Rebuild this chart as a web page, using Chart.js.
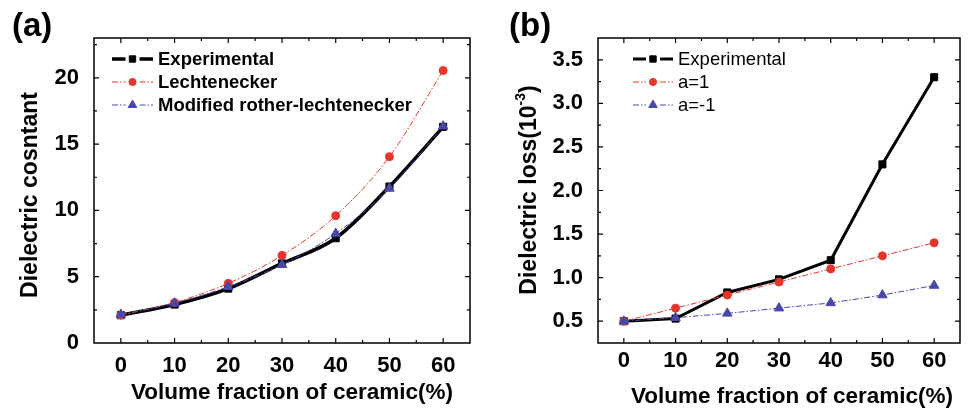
<!DOCTYPE html>
<html>
<head>
<meta charset="utf-8">
<script src="https://cdn.jsdelivr.net/npm/chart.js@4.4.1/dist/chart.umd.min.js"></script>
<style>
body{margin:0;background:#fff;width:975px;height:412px;overflow:hidden;position:relative}
.panel{position:absolute;top:0;height:412px}
</style>
</head>
<body>
<div class="panel" style="left:0;width:487px"><canvas id="graficoA" width="487" height="412"></canvas></div>
<div class="panel" style="left:487px;width:488px"><canvas id="graficoB" width="488" height="412"></canvas></div>
<script>
// datos
const fraccion=[0,10,20,30,40,50,60];
const ticksX=[0,10,20,30,40,50,60];
const ticksA=[0,5,10,15,20];
const ticksB=[0.5,1.0,1.5,2.0,2.5,3.0,3.5];

const etiquetasA=["Experimental","Lechtenecker","Modified rother-lechtenecker"];
const constante_exp=[2.1,2.9,4.1,6.0,7.9,11.8,16.3];
const constante_lech=[2.1,3.05,4.5,6.6,9.6,14.05,20.55];
const constante_mod=[2.15,3.0,4.25,5.9,8.25,11.65,16.35];

const etiquetasB=["Experimental","a=1","a=-1"];
const perdida_exp=[0.5,0.53,0.83,0.98,1.2,2.3,3.3];
const perdida_a1=[0.5,0.65,0.8,0.95,1.1,1.25,1.4];
const perdida_am1=[0.5,0.54,0.59,0.65,0.71,0.8,0.91];

const negro='#000000';
const rojo='#e5352b';
const azul='#4848aa';
const fuente='"Liberation Sans", Arial, sans-serif';

function puntos(valores){
    return fraccion.map((f,i)=>({x:f,y:valores[i]}));
}

// marco con ticks hacia adentro en los cuatro lados
const marco={
    id:'marco',
    afterDatasetsDraw(chart){
        const {ctx,chartArea:a,scales}=chart;
        ctx.save();
        ctx.strokeStyle='#000';
        ctx.lineWidth=1.5;
        ctx.strokeRect(a.left,a.top,a.right-a.left,a.bottom-a.top);
        ctx.lineWidth=1.2;
        ctx.beginPath();
        ['x','y'].forEach(k=>{
            const s=scales[k];
            const vals=s.ticks.map(t=>t.value);
            const paso=vals[1]-vals[0];
            const medio=paso/2;
            let v=vals[0];
            while(v-medio>=s.min-1e-9) v-=medio;
            for(;v<=s.max+1e-9;v+=medio){
                const mayor=Math.abs(((v-vals[0])/paso)-Math.round((v-vals[0])/paso))<1e-6;
                const l=mayor?5:3;
                const p=s.getPixelForValue(v);
                if(k==='x'){
                    if(p<=a.left+1||p>=a.right-1) continue;
                    ctx.moveTo(p,a.bottom);ctx.lineTo(p,a.bottom-l);
                    ctx.moveTo(p,a.top);ctx.lineTo(p,a.top+l);
                }else{
                    if(p<=a.top+1||p>=a.bottom-1) continue;
                    ctx.moveTo(a.left,p);ctx.lineTo(a.left+l,p);
                    ctx.moveTo(a.right,p);ctx.lineTo(a.right-l,p);
                }
            }
        });
        ctx.stroke();
        ctx.restore();
    }
};

// leyenda con linea y marcador
const leyenda={
    id:'leyenda',
    afterDraw(chart,args,o){
        const ctx=chart.ctx;
        chart.data.datasets.forEach((ds,i)=>{
            const y=o.y+i*o.paso;
            const m=o.x+o.largo/2;
            ctx.save();
            ctx.strokeStyle=ds.borderColor;
            ctx.lineWidth=ds.borderWidth;
            ctx.setLineDash(ds.borderDash||[]);
            ctx.beginPath();
            ctx.moveTo(o.x,y);ctx.lineTo(m-7,y);
            ctx.moveTo(m+7,y);ctx.lineTo(o.x+o.largo,y);
            ctx.stroke();
            ctx.setLineDash([]);
            ctx.fillStyle=ds.pointBackgroundColor;
            ctx.strokeStyle=ds.pointBorderColor;
            ctx.lineWidth=1;
            Chart.helpers.drawPoint(ctx,{pointStyle:ds.pointStyle,radius:ds.pointRadius*0.9,borderWidth:1,rotation:0},m,y);
            ctx.fillStyle='#000';
            ctx.font=o.fuente;
            ctx.textAlign='left';
            ctx.textBaseline='middle';
            ctx.fillText(ds.label,o.x+o.largo+5,y+1);
            ctx.restore();
        });
    }
};

// titulos de ejes y letra del panel
const titulos={
    id:'titulos',
    afterDraw(chart,args,o){
        const ctx=chart.ctx;
        ctx.save();
        ctx.fillStyle='#000';
        ctx.font='bold 33px '+fuente;
        ctx.textAlign='left';
        ctx.textBaseline='middle';
        ctx.fillText(o.panel,o.panelX,27);

        ctx.font='bold 22.5px '+fuente;
        ctx.textAlign='center';
        ctx.fillText(o.tituloX,o.xcx,o.xcy);

        ctx.translate(o.ycx,o.ycy);
        ctx.rotate(-Math.PI/2);
        ctx.textAlign='left';
        const fSup='bold 14px '+fuente;
        const fNorm='bold 23px '+fuente;
        ctx.font=fNorm;
        const w1=ctx.measureText(o.tituloY).width;
        let w2=0,w3=0;
        if(o.sup){
            ctx.font=fSup; w2=ctx.measureText(o.sup).width;
            ctx.font=fNorm; w3=ctx.measureText(o.cierre).width;
        }
        let x=-(w1+w2+w3)/2;
        ctx.font=fNorm;
        ctx.fillText(o.tituloY,x,0);
        if(o.sup){
            x+=w1;
            ctx.font=fSup;
            ctx.fillText(o.sup,x,-9);
            x+=w2;
            ctx.font=fNorm;
            ctx.fillText(o.cierre,x,0);
        }
        ctx.restore();
    }
};

function serie(etiqueta,valores,color,ancho,dash,estilo,radio,orden){
    return {
        label:etiqueta,
        data:puntos(valores),
        borderColor:color,
        backgroundColor:color,
        pointBackgroundColor:color,
        pointBorderColor:color,
        borderWidth:ancho,
        borderDash:dash,
        pointStyle:estilo,
        pointRadius:radio,
        pointBorderWidth:1,
        order:orden,
        fill:false
    };
}

function escalas(yMin,yMax,ticksY,formato,anchoY,padX){
    return {
        x:{
            type:'linear',min:-5,max:65,
            afterFit(s){s.height=69;},
            afterBuildTicks(s){s.ticks=ticksX.map(v=>({value:v}));},
            grid:{display:false},border:{display:false},
            ticks:{padding:padX,color:'#000',font:{family:fuente,size:22,weight:'bold'}}
        },
        y:{
            type:'linear',min:yMin,max:yMax,
            afterFit(s){s.width=anchoY;},
            afterBuildTicks(s){s.ticks=ticksY.map(v=>({value:v}));},
            grid:{display:false},border:{display:false},
            ticks:{padding:7,color:'#000',font:{family:fuente,size:22,weight:'bold'},callback:formato}
        }
    };
}

function grafico_a(){
    const ctx=document.getElementById('graficoA');
    new Chart(ctx,{
        type:'line',
        data:{
            datasets:[
                serie(etiquetasA[0],constante_exp,negro,3.5,[],'rect',5,3),
                serie(etiquetasA[1],constante_lech,rojo,1,[6,2,1.5,2],'circle',4,2),
                serie(etiquetasA[2],constante_mod,azul,1,[6,2,1.5,2],'triangle',5.5,1)
            ]
        },
        options:{
            responsive:false,
            animation:false,
            elements:{line:{cubicInterpolationMode:'monotone',tension:0.4}},
            layout:{padding:{top:38,right:17,left:0,bottom:0}},
            scales:escalas(0,23,ticksA,v=>v,94,2),
            plugins:{
                legend:{display:false},
                tooltip:{enabled:false},
                leyenda:{x:112,y:59,paso:23,largo:41,fuente:'bold 18.5px '+fuente},
                titulos:{panel:'(a)',panelX:12,tituloX:'Volume fraction of ceramic(%)',xcx:292,xcy:393,
                         tituloY:'Dielectric cosntant',ycx:31,ycy:195}
            }
        },
        plugins:[marco,leyenda,titulos]
    });
}

function grafico_b(){
    const ctx=document.getElementById('graficoB');
    new Chart(ctx,{
        type:'line',
        data:{
            datasets:[
                serie(etiquetasB[0],perdida_exp,negro,3,[],'rect',5,3),
                serie(etiquetasB[1],perdida_a1,rojo,1,[6,2,1.5,2],'circle',4,2),
                serie(etiquetasB[2],perdida_am1,azul,1,[6,2,1.5,2],'triangle',5.5,1)
            ]
        },
        options:{
            responsive:false,
            animation:false,
            elements:{line:{tension:0}},
            layout:{padding:{top:38,right:15,left:0,bottom:0}},
            scales:escalas(0.25,3.75,ticksB,v=>v.toFixed(1),111,-3),
            plugins:{
                legend:{display:false},
                tooltip:{enabled:false},
                leyenda:{x:146,y:59,paso:23,largo:40,fuente:'18.5px '+fuente},
                titulos:{panel:'(b)',panelX:22,tituloX:'Volume fraction of ceramic(%)',xcx:305,xcy:397,
                         tituloY:'Dielectric loss(10',sup:'-3',cierre:')',ycx:43,ycy:190}
            }
        },
        plugins:[marco,leyenda,titulos]
    });
}

grafico_a();
grafico_b();
</script>
</body>
</html>
